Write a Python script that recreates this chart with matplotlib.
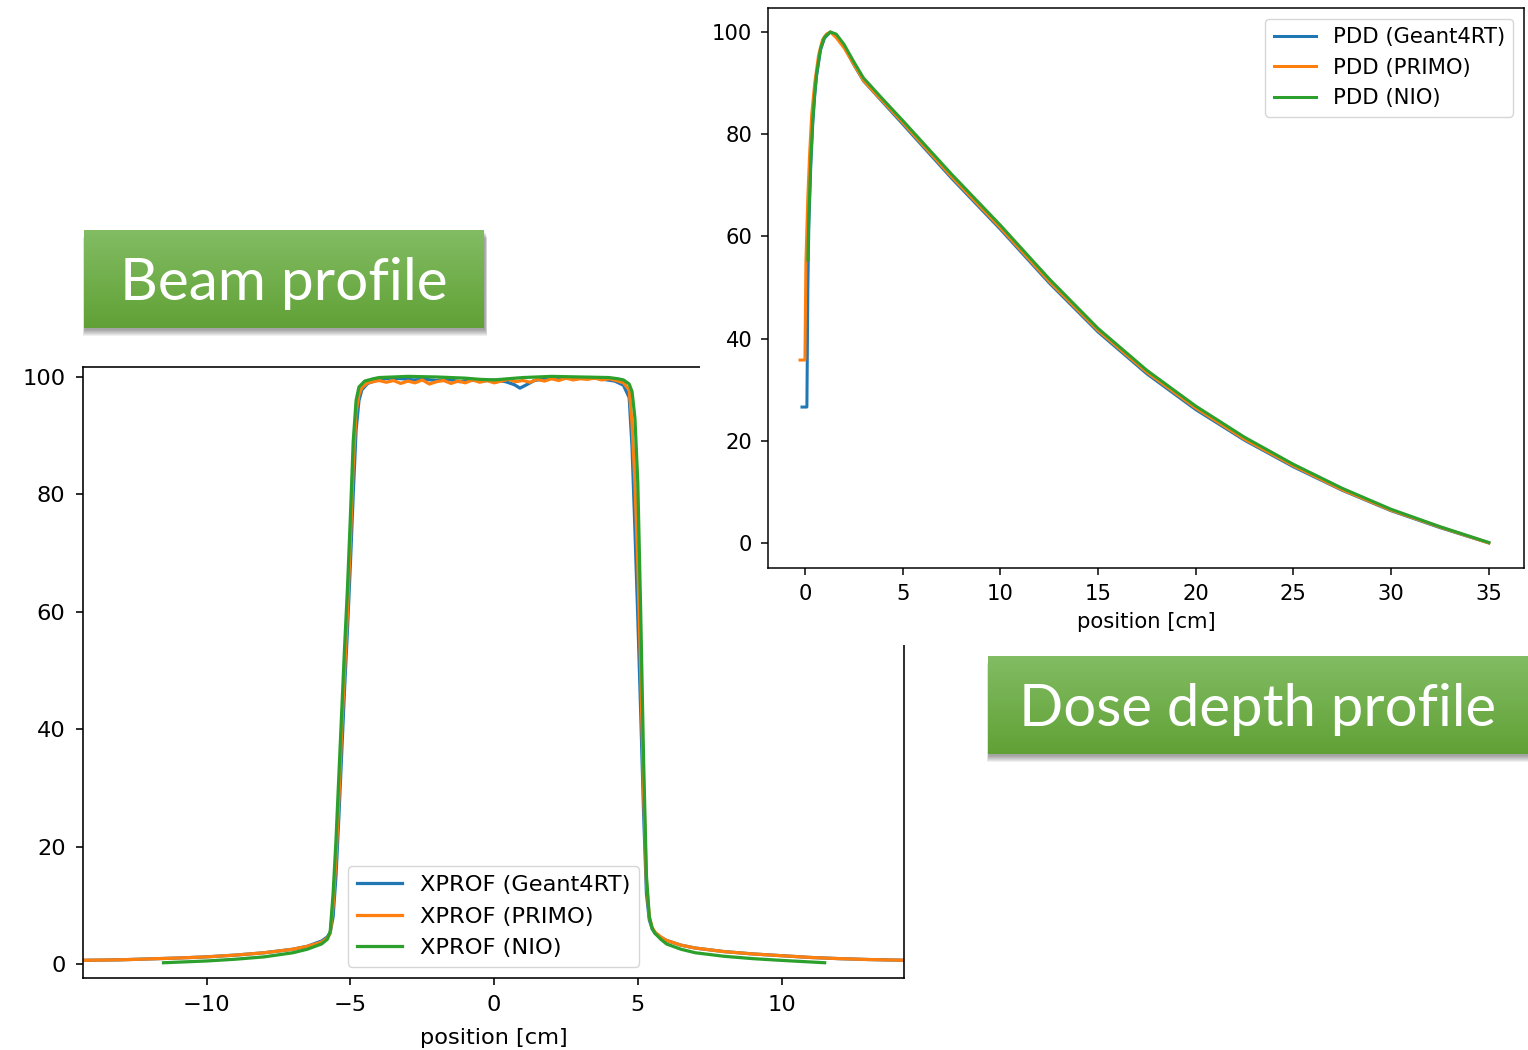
import numpy as np
import matplotlib.pyplot as plt
from matplotlib.patches import Rectangle

# ---------------- beam profile (XPROF) ----------------
xprof_g4_x = [-14.5, -13.0, -12.0, -11.0, -10.0, -9.0, -8.0, -7.0, -6.5, -6.0, -5.8, -5.7,
              -5.6, -5.5, -5.4, -5.3, -5.2, -5.1, -5.0, -4.9, -4.8, -4.7, -4.6, -4.4, -4.0,
              -3.6, -3.2, -2.8, -2.4, -2.0, -1.6, -1.2, -0.8, -0.4, 0.0, 0.4, 0.7, 0.9, 1.1,
              1.4, 1.8, 2.2, 2.6, 3.0, 3.4, 3.8, 4.2, 4.5, 4.7, 4.8, 4.9, 5.0, 5.1, 5.2,
              5.3, 5.4, 5.5, 5.6, 5.8, 6.0, 6.5, 7.0, 8.0, 9.0, 10.0, 11.0, 12.0, 13.0, 14.5]
xprof_g4_y = [0.6, 0.7, 0.85, 1.0, 1.2, 1.5, 1.9, 2.5, 3.0, 3.9, 4.6, 5.4,
              8.0, 15.0, 25.0, 36.0, 47.0, 57.0, 68.0, 80.0, 91.0, 96.0, 97.8, 98.9, 99.6,
              99.8, 99.7, 99.5, 99.6, 99.4, 99.6, 99.2, 99.5, 99.3, 99.5, 99.2, 98.7, 98.1, 98.6,
              99.4, 99.7, 99.8, 99.9, 99.8, 99.9, 99.6, 99.3, 98.6, 96.5, 88.0, 74.0, 59.0, 43.0, 26.0,
              12.0, 7.5, 6.0, 5.2, 4.5, 4.0, 3.2, 2.7, 2.1, 1.7, 1.4, 1.1, 0.9, 0.75, 0.6]

xprof_primo_x = [-14.5, -13.0, -12.0, -11.0, -10.0, -9.0, -8.0, -7.0, -6.5, -6.0, -5.8, -5.7,
                 -5.6, -5.5, -5.4, -5.3, -5.2, -5.1, -5.0, -4.9, -4.8, -4.7, -4.6, -4.4, -4.0,
                 -3.75, -3.5, -3.25, -3.0, -2.75, -2.5, -2.25, -2.0, -1.75, -1.5, -1.25, -1.0,
                 -0.75, -0.5, -0.25, 0.0, 0.25, 0.5, 0.75, 1.0, 1.25, 1.5, 1.75, 2.0, 2.25, 2.5,
                 2.75, 3.0, 3.25, 3.5, 3.75, 4.0, 4.25, 4.5, 4.7, 4.8, 4.9, 5.0, 5.1, 5.2,
                 5.3, 5.4, 5.5, 5.6, 5.8, 6.0, 6.5, 7.0, 8.0, 9.0, 10.0, 11.0, 12.0, 13.0, 14.5]
xprof_primo_y = [0.6, 0.7, 0.85, 1.0, 1.2, 1.5, 1.9, 2.5, 3.0, 3.7, 4.4, 5.2,
                 10.0, 18.0, 28.0, 40.0, 50.0, 60.0, 72.0, 85.0, 94.0, 97.0, 98.2, 99.0, 99.4,
                 99.1, 99.4, 98.9, 99.3, 99.0, 99.5, 98.8, 99.2, 99.4, 98.9, 99.3, 99.0,
                 99.5, 99.1, 99.4, 99.0, 99.3, 99.6, 99.2, 99.4, 99.1, 99.6, 99.3, 99.7, 99.4, 99.8,
                 99.5, 99.7, 99.6, 99.8, 99.5, 99.7, 99.4, 99.0, 97.8, 92.0, 82.0, 68.0, 50.0, 30.0,
                 14.0, 8.0, 6.2, 5.4, 4.6, 4.0, 3.2, 2.7, 2.1, 1.7, 1.4, 1.1, 0.9, 0.75, 0.6]

xprof_nio_x = [-11.5, -10.0, -9.0, -8.0, -7.0, -6.5, -6.0, -5.8, -5.7, -5.6, -5.5, -5.4, -5.3,
               -5.2, -5.1, -5.0, -4.9, -4.8, -4.7, -4.5, -4.2, -4.0, -3.0, -2.0, -1.0, -0.5,
               0.0, 0.5, 1.0, 2.0, 3.0, 4.0, 4.3, 4.5, 4.7, 4.8, 4.9, 5.0, 5.1, 5.2, 5.3, 5.4,
               5.5, 5.6, 5.8, 6.0, 6.5, 7.0, 8.0, 9.0, 10.0, 11.5]
xprof_nio_y = [0.2, 0.5, 0.8, 1.2, 1.9, 2.5, 3.4, 4.2, 5.5, 12.0, 21.0, 32.0, 43.0,
               54.0, 64.0, 76.0, 89.0, 96.0, 98.3, 99.3, 99.7, 99.9, 100.1, 100.0, 99.8, 99.6,
               99.5, 99.7, 99.9, 100.1, 100.0, 99.9, 99.7, 99.5, 98.8, 97.5, 93.0, 82.0, 60.0, 35.0, 15.0, 8.0,
               6.0, 5.2, 4.2, 3.4, 2.5, 1.9, 1.3, 0.9, 0.6, 0.2]

# ---------------- percentage depth dose (PDD) ----------------
pdd_g4_x = [-0.15, 0.1, 0.15, 0.2, 0.3, 0.4, 0.5, 0.6, 0.8, 1.0, 1.3, 1.6, 2.0, 2.5, 3.0, 3.5,
            4.0, 5.0, 7.5, 10.0, 12.5, 15.0, 17.5, 20.0, 22.5, 25.0, 27.5, 30.0, 32.5, 35.0]
pdd_g4_y = [26.6, 26.6, 50.0, 62.0, 74.0, 82.0, 87.5, 91.5, 96.5, 98.8, 100.0, 99.4, 97.2, 93.6, 90.4, 88.3,
            86.2, 82.0, 71.4, 61.4, 50.9, 41.3, 33.1, 26.1, 20.1, 14.9, 10.3, 6.3, 3.0, 0.0]

pdd_primo_x = [-0.25, 0.0, 0.05, 0.15, 0.25, 0.35, 0.5, 0.7, 0.9, 1.1, 1.3, 1.6, 2.0, 2.5, 3.0, 3.5,
               4.0, 5.0, 7.5, 10.0, 12.5, 15.0, 17.5, 20.0, 22.5, 25.0, 27.5, 30.0, 32.5, 35.0]
pdd_primo_y = [35.8, 35.8, 55.0, 68.0, 77.0, 84.0, 90.0, 95.5, 98.5, 99.6, 100.0, 98.9, 96.9, 93.7, 90.5, 88.4,
               86.4, 82.3, 71.7, 61.7, 51.2, 41.6, 33.4, 26.4, 20.3, 15.1, 10.4, 6.4, 3.1, 0.0]

pdd_nio_x = [0.15, 0.2, 0.3, 0.4, 0.5, 0.6, 0.8, 1.0, 1.3, 1.6, 2.0, 2.5, 3.0, 3.5,
             4.0, 5.0, 7.5, 10.0, 12.5, 15.0, 17.5, 20.0, 22.5, 25.0, 27.5, 30.0, 32.5, 35.0]
pdd_nio_y = [55.4, 64.0, 75.0, 82.8, 88.0, 92.0, 96.8, 99.0, 100.0, 99.6, 97.6, 94.2, 91.0, 88.9,
             86.8, 82.7, 72.2, 62.2, 51.7, 42.0, 33.8, 26.8, 20.7, 15.4, 10.7, 6.6, 3.2, 0.1]

xprof_labels = ['XPROF (Geant4RT)', 'XPROF (PRIMO)', 'XPROF (NIO)']
pdd_labels = ['PDD (Geant4RT)', 'PDD (PRIMO)', 'PDD (NIO)']

W, H = 1528, 1050
fig = plt.figure(figsize=(W / 100, H / 100), dpi=100)


def box_px(x0, y0, x1, y1):
    return [x0 / W, 1 - y1 / H, (x1 - x0) / W, (y1 - y0) / H]


def style_axes(ax, s, fs, pad):
    for sp in ax.spines.values():
        sp.set_linewidth(0.8 * s)
    ax.tick_params(labelsize=fs, length=3.5 * s, width=0.8 * s, pad=pad)


# left figure: beam profile
s1, fs1 = 1.45, 16.2
ax1 = fig.add_axes(box_px(83, 367, 904, 978), zorder=0)
ax1.plot(xprof_g4_x, xprof_g4_y, lw=1.6 * s1, label=xprof_labels[0])
ax1.plot(xprof_primo_x, xprof_primo_y, lw=1.6 * s1, label=xprof_labels[1])
ax1.plot(xprof_nio_x, xprof_nio_y, lw=1.6 * s1, label=xprof_labels[2])
ax1.set_xlim(-14.3, 14.26)
ax1.set_ylim(-2.4, 101.7)
ax1.set_xticks([-10, -5, 0, 5, 10])
ax1.set_xlabel('position [cm]', fontsize=fs1, labelpad=9)
style_axes(ax1, s1, fs1, 7.5)
ax1.legend(loc='lower center', fontsize=fs1)

# white background of the second figure pasted on top
fig.add_artist(Rectangle((700 / W, 1 - 645 / H), 828 / W, 645 / H,
                         transform=fig.transFigure, facecolor='white',
                         edgecolor='none', zorder=1))

# right figure: dose depth profile
s2, fs2 = 1.36, 15.2
ax2 = fig.add_axes(box_px(768, 8, 1524, 568), zorder=2)
ax2.plot(pdd_g4_x, pdd_g4_y, lw=1.6 * s2, label=pdd_labels[0])
ax2.plot(pdd_primo_x, pdd_primo_y, lw=1.6 * s2, label=pdd_labels[1])
ax2.plot(pdd_nio_x, pdd_nio_y, lw=1.6 * s2, label=pdd_labels[2])
ax2.set_xlim(-1.89, 36.8)
ax2.set_ylim(-4.9, 104.7)
ax2.set_xticks([0, 5, 10, 15, 20, 25, 30, 35])
ax2.set_xlabel('position [cm]', fontsize=fs2, labelpad=6)
style_axes(ax2, s2, fs2, 6.5)
ax2.legend(loc='upper right', fontsize=fs2)


# green label boxes
def label_box(x0, y0, x1, y1, text, text_w):
    for k in range(7):
        d = 1 + k
        fig.add_artist(Rectangle(((x0 + 1 - d * 0.3) / W, 1 - (y1 + 1 + d) / H),
                                 (x1 - x0 + d * 0.6) / W, (y1 - y0) / H,
                                 transform=fig.transFigure, facecolor='black',
                                 edgecolor='none', alpha=0.06, zorder=3))
    bax = fig.add_axes(box_px(x0, y0, x1, y1), zorder=4)
    grad = np.linspace(0, 1, 100).reshape(-1, 1)
    top = np.array([0.51, 0.74, 0.39])
    bot = np.array([0.38, 0.63, 0.21])
    img = top[None, None, :] * (1 - grad[:, :, None]) + bot[None, None, :] * grad[:, :, None]
    bax.imshow(img, aspect='auto', extent=[0, 1, 0, 1])
    bax.set_axis_off()
    t = fig.text((x0 + x1) / 2 / W, 1 - ((y0 + y1) / 2 + 21) / H, text,
                 color='white', fontsize=50, family='Lato',
                 ha='center', va='baseline', zorder=5)
    fig.canvas.draw()
    w = t.get_window_extent().width
    t.set_fontsize(50 * text_w / w)


label_box(84, 230, 484, 328, 'Beam profile', 328)
label_box(988, 656, 1528, 754, 'Dose depth profile', 477)

fig.savefig('out.png', dpi=100)
